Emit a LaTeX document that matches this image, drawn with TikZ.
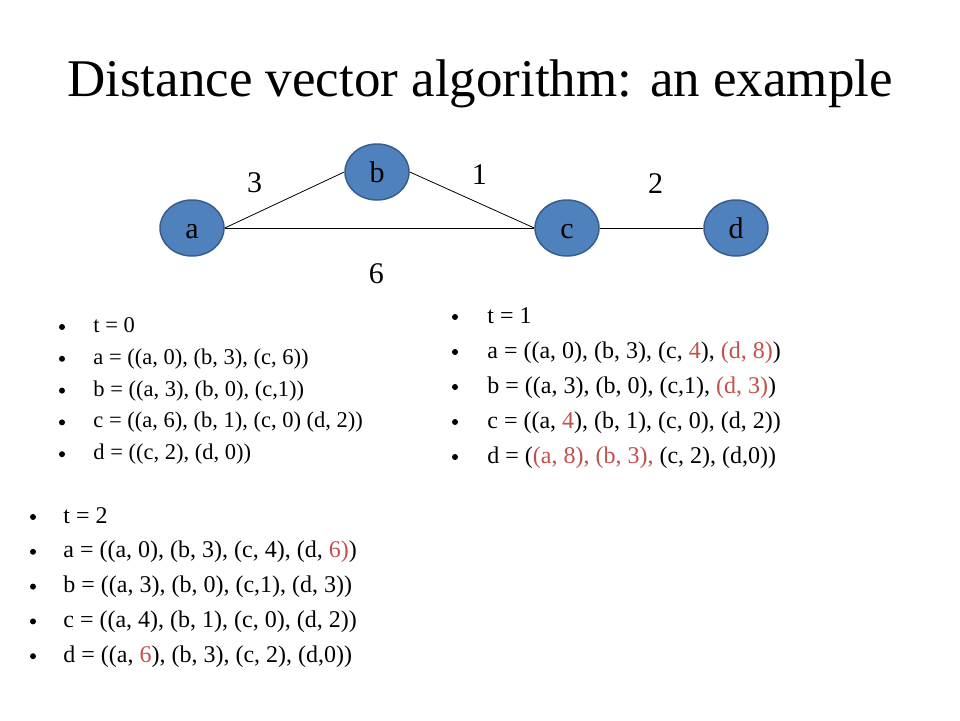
\documentclass[tikz,border=0pt]{standalone}
\usepackage{fontspec}
\setmainfont{Liberation Serif}
\usepackage{color}
\usetikzlibrary{shapes.geometric}
\definecolor{nodeblue}{HTML}{4F81BD}
\definecolor{nodeedge}{HTML}{385D8A}
\definecolor{upd}{HTML}{C0504D}

\begin{document}
\begin{tikzpicture}
		[x=1pt, y=-1pt, line width=0.8pt,
		weight/.style={font=\fontsize{30}{36}\selectfont},
		dot/.style={circle, fill=black, inner sep=0pt, minimum size=6pt},
		entry/.style={anchor=base west, inner sep=0pt}]
		\useasboundingbox (0,0) rectangle (960,720);
		\node[anchor=base] (title) at (480,96) {\fontsize{53}{64}\selectfont Distance vector algorithm: an example};
		
		\foreach \n/\x/\y in {a/192/228, b/377/172, c/567/228, d/736/228}
		\node [ellipse, draw=nodeedge, fill=nodeblue, line width=1.5pt, inner sep=0pt, minimum width=64pt, minimum height=56pt, weight, text height=20pt, text depth=0pt](n\n) at (\x,\y) {\n};
		
		\draw (na.east) -- node[weight, pos=0.25, yshift=31pt]{3} (nb.west);
		\draw (nb.east) -- node[weight, pos=0.56, yshift=29pt]{1} (nc.west);
		\draw (nc.east) -- node[weight, pos=0.54, yshift=44pt]{2} (nd.west);
		\draw (na.east) -- node[weight, pos=0.49, yshift=-46pt]{6} (nc.west);
		
		% t = 0
		\foreach \txt [count=\i from 0] in {{t = 0}, {a = ((a, 0), (b, 3), (c, 6))}, {b = ((a, 3), (b, 0), (c,1))}, {c = ((a, 6), (b, 1), (c, 0) (d, 2))}, {d = ((c, 2), (d, 0))}}
		{
		\node [dot] (p0\i) at (62, {327+31.8*\i}) {};
		\node [entry, font=\fontsize{22.5}{27}\selectfont] (l0\i) at (93, {332.5+31.8*\i}) {\txt};
		}
		% t = 1
		\foreach \txt [count=\i from 0] in {{t = 1}, {a = ((a, 0), (b, 3), (c, \textcolor{upd}{4}), \textcolor{upd}{(d, 8)})}, {b = ((a, 3), (b, 0), (c,1), \textcolor{upd}{(d, 3)})}, {c = ((a, \textcolor{upd}{4}), (b, 1), (c, 0), (d, 2))}, {d = (\textcolor{upd}{(a, 8), (b, 3),} (c, 2), (d,0))}}
		{
		\node [dot] (p1\i) at (455, {317+35*\i}) {};
		\node [entry, font=\fontsize{24}{29}\selectfont] (l1\i) at (487, {323+35*\i}) {\txt};
		}
		% t = 2
		\foreach \txt [count=\i from 0] in {{t = 2}, {a = ((a, 0), (b, 3), (c, 4), (d, \textcolor{upd}{6)})}, {b = ((a, 3), (b, 0), (c,1), (d, 3))}, {c = ((a, 4), (b, 1), (c, 0), (d, 2))}, {d = ((a, \textcolor{upd}{6}), (b, 3), (c, 2), (d,0))}}
		{
		\node [dot] (p2\i) at (33, {517+34.8*\i}) {};
		\node [entry, font=\fontsize{24}{29}\selectfont] (l2\i) at (63, {523+34.8*\i}) {\txt};
		}
		\end{tikzpicture}
\end{document}
